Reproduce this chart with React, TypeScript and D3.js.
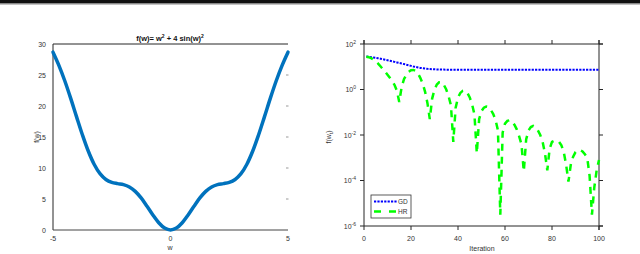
import React from "react";
import * as d3 from "d3";

// Left panel: f(w) = w^2 + 4 sin(w)^2
const wValues = [-5, -4.75, -4.5, -4.25, -4, -3.75, -3.5, -3.25, -3, -2.75, -2.5, -2.25, -2, -1.75, -1.5, -1.25, -1, -0.75, -0.5, -0.25, 0,
  0.25, 0.5, 0.75, 1, 1.25, 1.5, 1.75, 2, 2.25, 2.5, 2.75, 3, 3.25, 3.5, 3.75, 4, 4.25, 4.5, 4.75, 5];
const fValues = [28.68, 26.56, 24.07, 21.27, 18.29, 15.37, 12.74, 10.61, 9.08, 8.15, 7.68, 7.48, 7.31, 6.94, 6.23, 5.17, 3.83, 2.42, 1.17, 0.31, 0,
  0.31, 1.17, 2.42, 3.83, 5.17, 6.23, 6.94, 7.31, 7.48, 7.68, 8.15, 9.08, 10.61, 12.74, 15.37, 18.29, 21.27, 24.07, 26.56, 28.68];
const leftXTicks = [-5, 0, 5];
const leftYTicks = [0, 5, 10, 15, 20, 25, 30];

// Right panel: f(w_t) per iteration
const iterations = d3.range(1, 101);
const gdValues = [
  28, 27.2, 26.3, 25.4, 24.5, 23.6, 22.6, 21.5, 20.4, 19.3,
  18.3, 17.3, 16.4, 15.5, 14.7, 13.9, 13.1, 12.3, 11.6, 10.9,
  10.3, 9.8, 9.3, 8.9, 8.6, 8.35, 8.1, 7.95, 7.8, 7.7,
  7.62, 7.56, 7.52, 7.48, 7.45, 7.43, 7.41, 7.4, 7.39, 7.38,
  7.37, 7.36, 7.35, 7.35, 7.34, 7.34, 7.33, 7.33, 7.33, 7.32,
  7.32, 7.32, 7.32, 7.31, 7.31, 7.31, 7.31, 7.31, 7.31, 7.3,
  7.3, 7.3, 7.3, 7.3, 7.3, 7.3, 7.3, 7.3, 7.3, 7.3,
  7.3, 7.3, 7.3, 7.3, 7.3, 7.3, 7.3, 7.3, 7.3, 7.3,
  7.3, 7.3, 7.3, 7.3, 7.3, 7.3, 7.3, 7.3, 7.3, 7.3,
  7.3, 7.3, 7.3, 7.3, 7.3, 7.3, 7.3, 7.3, 7.3, 7.3,
];
const hrLog10 = [
  1.44, 1.42, 1.38, 1.32, 1.24, 1.14, 1.02, 0.9, 0.78, 0.65,
  0.52, 0.38, 0.2, -0.05, -0.55, 0.1, 0.45, 0.65, 0.78, 0.85,
  0.86, 0.82, 0.7, 0.5, 0.25, -0.1, -0.6, -1.3, -0.4, 0.0,
  0.22, 0.32, 0.33, 0.2, 0.0, -0.3, -0.7, -2.3, -0.8, -0.35,
  -0.15, -0.06, -0.05, -0.15, -0.35, -0.65, -1.1, -2.8, -1.3, -0.95,
  -0.8, -0.75, -0.78, -0.9, -1.08, -1.35, -1.8, -5.5, -1.9, -1.5,
  -1.38, -1.35, -1.4, -1.55, -1.75, -2.05, -2.4, -3.6, -2.2, -1.8,
  -1.65, -1.6, -1.65, -1.8, -2.0, -2.3, -2.8, -3.55, -2.6, -2.3,
  -2.25, -2.25, -2.3, -2.45, -2.75, -3.3, -4.05, -3.3, -2.95, -2.75,
  -2.67, -2.67, -2.72, -2.85, -3.0, -3.8, -5.5, -4.3, -3.55, -3.1,
];
const rightXTicks = [0, 20, 40, 60, 80, 100];
const rightYExponents = [2, 0, -2, -4, -6];
const legendLabels = ["GD", "HR"];

const FONT = "'Liberation Sans', Arial, sans-serif";

export default function App() {
  // Left scales
  const lx = d3.scaleLinear().domain([-5, 5]).range([53, 288]);
  const ly = d3.scaleLinear().domain([0, 30]).range([230, 44]);
  const leftLine = d3
    .line<number>()
    .x((_, i) => lx(wValues[i]))
    .y((d) => ly(d))
    .curve(d3.curveCatmullRom);

  // Right scales
  const rx = d3.scaleLinear().domain([0, 100]).range([364, 599]);
  const ry = d3.scaleLog().domain([1e-6, 1e2]).range([226, 44]);
  const gdLine = d3
    .line<number>()
    .x((_, i) => rx(iterations[i]))
    .y((d) => ry(d));
  const hrLine = d3
    .line<number>()
    .x((_, i) => rx(iterations[i]))
    .y((d) => ry(Math.pow(10, d)));

  const tickColor = "#262626";

  return (
    <div style={{ position: "absolute", left: 0, top: 0 }}>
      <svg width={640} height={254} style={{ display: "block", background: "#fff" }} fontFamily={FONT}>
        {/* top dark band */}
        <rect x={0} y={0} width={640} height={3} fill="#111" />
        <rect x={0} y={3} width={640} height={1.5} fill="#888" />

        {/* ---------- Left panel ---------- */}
        <text x={170} y={41} textAnchor="middle" fontSize={7.5} fontWeight="bold" fill="#111">
          f(w)= w<tspan dy={-3} fontSize={5}>2</tspan>
          <tspan dy={3}> + 4 sin(w)</tspan>
          <tspan dy={-3} fontSize={5}>2</tspan>
        </text>
        <line x1={53} x2={288} y1={44} y2={44} stroke={tickColor} strokeWidth={1} />
        <line x1={53} x2={53} y1={44} y2={230} stroke={tickColor} strokeWidth={1} />
        <line x1={53} x2={288} y1={230} y2={230} stroke="#444" strokeWidth={1} />
        {leftYTicks.slice(1, -1).map((t) => (
          <line key={"rt" + t} x1={286} x2={288.5} y1={ly(t)} y2={ly(t)} stroke="#999" strokeWidth={1} />
        ))}
        {leftYTicks.map((t) => (
          <text key={"ly" + t} x={46} y={ly(t) + 2.5} textAnchor="end" fontSize={7} fill="#333">
            {t}
          </text>
        ))}
        {leftXTicks.map((t) => (
          <text key={"lx" + t} x={lx(t)} y={241} textAnchor="middle" fontSize={7} fill="#333">
            {t}
          </text>
        ))}
        <text x={170} y={250} textAnchor="middle" fontSize={7} fill="#333">
          w
        </text>
        <text transform="translate(39,137) rotate(-90)" textAnchor="middle" fontSize={7} fill="#333">
          f(w)
        </text>
        <path d={leftLine(fValues) || ""} fill="none" stroke="#0072BD" strokeWidth={3.5} strokeLinecap="round" />

        {/* ---------- Right panel ---------- */}
        <line x1={364} x2={603} y1={44} y2={44} stroke={tickColor} strokeWidth={1} />
        <line x1={364} x2={603} y1={226} y2={226} stroke={tickColor} strokeWidth={1} />
        <line x1={364} x2={364} y1={40} y2={226} stroke={tickColor} strokeWidth={1} />
        <line x1={599} x2={599} y1={40} y2={230} stroke={tickColor} strokeWidth={1} />
        {rightXTicks.map((t) => (
          <g key={"rx" + t}>
            <line x1={rx(t)} x2={rx(t)} y1={40} y2={44} stroke={tickColor} strokeWidth={1} />
            <line x1={rx(t)} x2={rx(t)} y1={226} y2={230} stroke={tickColor} strokeWidth={1} />
            <text x={rx(t)} y={241} textAnchor="middle" fontSize={7} fill="#333">
              {t}
            </text>
          </g>
        ))}
        {rightYExponents.map((e) => (
          <g key={"ry" + e}>
            <line x1={360} x2={364} y1={ry(Math.pow(10, e))} y2={ry(Math.pow(10, e))} stroke={tickColor} strokeWidth={1} />
            <line x1={599} x2={603} y1={ry(Math.pow(10, e))} y2={ry(Math.pow(10, e))} stroke={tickColor} strokeWidth={1} />
            <text x={356} y={ry(Math.pow(10, e)) + 2.5} textAnchor="end" fontSize={7} fill="#333">
              10<tspan dy={-3} fontSize={5}>{e}</tspan>
            </text>
          </g>
        ))}
        <text x={482} y={251} textAnchor="middle" fontSize={7} fill="#333">
          Iteration
        </text>
        <text transform="translate(331,137) rotate(-90)" textAnchor="middle" fontSize={7} fill="#333">
          f(w<tspan dy={1.5} fontSize={5}>t</tspan>
          <tspan dy={-1.5}>)</tspan>
        </text>

        <path d={gdLine(gdValues) || ""} fill="none" stroke="#0000ff" strokeWidth={2} strokeDasharray="2.2,1.2" />
        <path d={hrLine(hrLog10) || ""} fill="none" stroke="#00ff00" strokeWidth={2.5} strokeDasharray="7,6" />

        {/* Legend */}
        <rect x={371} y={195} width={40} height={23} fill="#fff" stroke="#333" strokeWidth={0.8} />
        <line x1={374} x2={397} y1={201.5} y2={201.5} stroke="#0000ff" strokeWidth={2} strokeDasharray="2.2,1.2" />
        <line x1={374} x2={397} y1={211.5} y2={211.5} stroke="#00ff00" strokeWidth={2.5} strokeDasharray="7,8" />
        <text x={398} y={204} fontSize={6.5} fill="#333">
          {legendLabels[0]}
        </text>
        <text x={398} y={214} fontSize={6.5} fill="#333">
          {legendLabels[1]}
        </text>
      </svg>
    </div>
  );
}
